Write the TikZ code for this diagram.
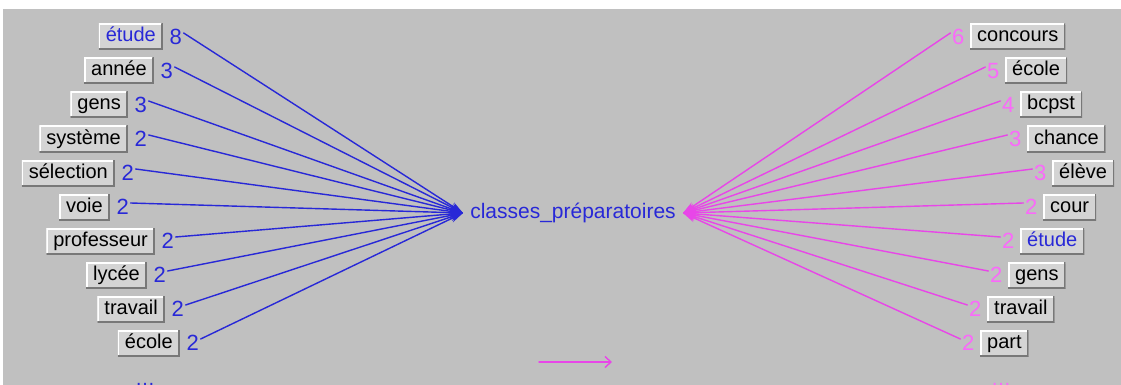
\documentclass[tikz,border=0pt]{standalone}
\usepackage{fontspec}
\setmainfont{Liberation Sans}
\usetikzlibrary{arrows.meta,positioning}
\definecolor{fond}{RGB}{192,192,192}
\definecolor{boite}{RGB}{212,212,212}
\definecolor{ombre}{RGB}{120,120,120}
\definecolor{bleu}{RGB}{40,40,215}
\definecolor{rose}{RGB}{232,70,232}
\definecolor{roseclair}{RGB}{250,105,250}
\begin{document}
\begin{tikzpicture}[x=1pt, y=-1pt, line join=round, line cap=round, >={Stealth[length=13pt,width=8pt]},
	mot/.style={fill=boite, font=\fontsize{20}{20}\selectfont, inner xsep=7pt, inner ysep=0pt, minimum height=26pt, text height=14pt, text depth=4pt,
		path picture={\draw[white, line width=3pt] (path picture bounding box.south west) |- (path picture bounding box.north east);
			\draw[ombre, line width=3pt] (path picture bounding box.south west) -| (path picture bounding box.north east);}},
	nbg/.style={font=\fontsize{22}{22}\selectfont, text=bleu, inner sep=1.5pt},
	nbd/.style={font=\fontsize{22}{22}\selectfont, text=roseclair, inner sep=1.5pt},
	lieng/.style={bleu, line width=1.4pt},
	liend/.style={rose, line width=1.4pt}]
		\clip (0,0) rectangle (1121,385);
		\fill[white] (0,0) rectangle (1121,385);
		\fill[fond] (3,9) rectangle (1121,385);
		% mot central
		\node[font=\fontsize{21}{21}\selectfont, text=bleu, inner sep=0pt] (centre) at (573,213) {classes\_préparatoires};
		\coordinate (hubg) at (463,213);
		\coordinate (hubd) at (683,213);
		% cooccurrents a gauche
		\node[mot, anchor=east, text=bleu] (g0) at (163,37) {étude};
		\node[mot, anchor=east] (g1) at (154,71) {année};
		\node[mot, anchor=east] (g2) at (128,105) {gens};
		\node[mot, anchor=east] (g3) at (128,139) {système};
		\node[mot, anchor=east] (g4) at (115,173) {sélection};
		\node[mot, anchor=east] (g5) at (110,207) {voie};
		\node[mot, anchor=east] (g6) at (155,241) {professeur};
		\node[mot, anchor=east] (g7) at (147,275) {lycée};
		\node[mot, anchor=east] (g8) at (165,309) {travail};
		\node[mot, anchor=east] (g9) at (180,343) {école};
		\node[nbg, right=5pt of g0] (g0n) {8};
		\node[nbg, right=5pt of g1] (g1n) {3};
		\node[nbg, right=5pt of g2] (g2n) {3};
		\node[nbg, right=5pt of g3] (g3n) {2};
		\node[nbg, right=5pt of g4] (g4n) {2};
		\node[nbg, right=5pt of g5] (g5n) {2};
		\node[nbg, right=5pt of g6] (g6n) {2};
		\node[nbg, right=5pt of g7] (g7n) {2};
		\node[nbg, right=5pt of g8] (g8n) {2};
		\node[nbg, right=5pt of g9] (g9n) {2};
		\draw[lieng, ->] ([yshift=4pt]g0n.east) -- (hubg);
		\draw[lieng, ->] ([yshift=4pt]g1n.east) -- (hubg);
		\draw[lieng, ->] ([yshift=4pt]g2n.east) -- (hubg);
		\draw[lieng, ->] ([yshift=4pt]g3n.east) -- (hubg);
		\draw[lieng, ->] ([yshift=4pt]g4n.east) -- (hubg);
		\draw[lieng, ->] ([yshift=4pt]g5n.east) -- (hubg);
		\draw[lieng, ->] ([yshift=4pt]g6n.east) -- (hubg);
		\draw[lieng, ->] ([yshift=4pt]g7n.east) -- (hubg);
		\draw[lieng, ->] ([yshift=4pt]g8n.east) -- (hubg);
		\draw[lieng, ->] ([yshift=4pt]g9n.east) -- (hubg);
		% cooccurrents a droite
		\node[mot, anchor=west] (d0) at (970,37) {concours};
		\node[mot, anchor=west] (d1) at (1005,71) {école};
		\node[mot, anchor=west] (d2) at (1020,105) {bcpst};
		\node[mot, anchor=west] (d3) at (1027,139) {chance};
		\node[mot, anchor=west] (d4) at (1052,173) {élève};
		\node[mot, anchor=west] (d5) at (1043,207) {cour};
		\node[mot, anchor=west, text=bleu] (d6) at (1020,241) {étude};
		\node[mot, anchor=west] (d7) at (1008,275) {gens};
		\node[mot, anchor=west] (d8) at (987,309) {travail};
		\node[mot, anchor=west] (d9) at (980,343) {part};
		\node[nbd, left=4pt of d0] (d0n) {6};
		\node[nbd, left=4pt of d1] (d1n) {5};
		\node[nbd, left=4pt of d2] (d2n) {4};
		\node[nbd, left=4pt of d3] (d3n) {3};
		\node[nbd, left=4pt of d4] (d4n) {3};
		\node[nbd, left=4pt of d5] (d5n) {2};
		\node[nbd, left=4pt of d6] (d6n) {2};
		\node[nbd, left=4pt of d7] (d7n) {2};
		\node[nbd, left=4pt of d8] (d8n) {2};
		\node[nbd, left=4pt of d9] (d9n) {2};
		\draw[liend, ->] ([yshift=4pt]d0n.west) -- (hubd);
		\draw[liend, ->] ([yshift=4pt]d1n.west) -- (hubd);
		\draw[liend, ->] ([yshift=4pt]d2n.west) -- (hubd);
		\draw[liend, ->] ([yshift=4pt]d3n.west) -- (hubd);
		\draw[liend, ->] ([yshift=4pt]d4n.west) -- (hubd);
		\draw[liend, ->] ([yshift=4pt]d5n.west) -- (hubd);
		\draw[liend, ->] ([yshift=4pt]d6n.west) -- (hubd);
		\draw[liend, ->] ([yshift=4pt]d7n.west) -- (hubd);
		\draw[liend, ->] ([yshift=4pt]d8n.west) -- (hubd);
		\draw[liend, ->] ([yshift=4pt]d9n.west) -- (hubd);
		% fleche du bas et suites
		\coordinate (flechea) at (539,362);
		\coordinate (flecheb) at (612,362);
		\draw[rose, line width=1.4pt, -{Straight Barb[length=6pt,width=11pt]}] (flechea) -- (flecheb);
		\node[text=bleu, font=\fontsize{20}{20}\selectfont, anchor=base, inner sep=0pt] (suiteg) at (145,385) {\ldots};
		\node[text=roseclair, font=\fontsize{20}{20}\selectfont, anchor=base, inner sep=0pt] (suited) at (1001,385) {\ldots};
	\end{tikzpicture}
\end{document}
